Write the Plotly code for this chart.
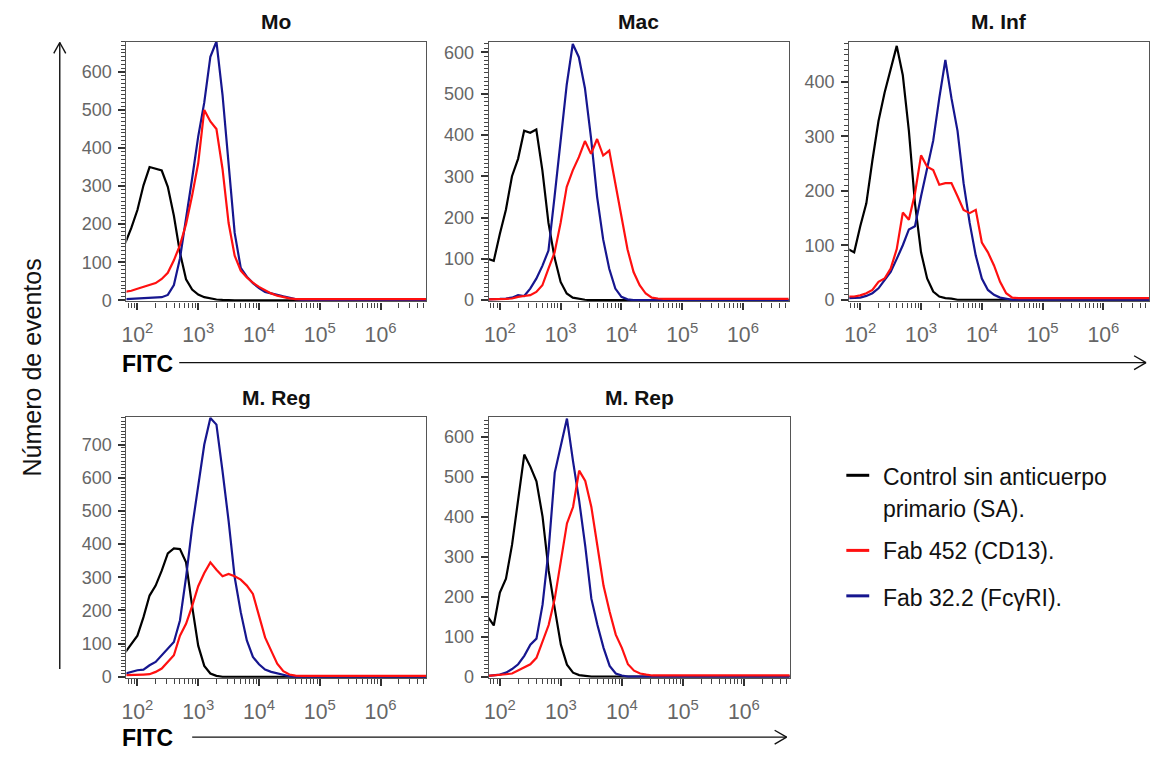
import plotly.graph_objects as go

W, H = 1151, 759

# ---------------- data (FITC intensity grid as log10 exponents; counts per channel) -------------
FITC_LOG = [1.8, 1.9, 2.0, 2.1, 2.2, 2.3, 2.4, 2.5, 2.6, 2.7,
            2.8, 2.9, 3.0, 3.1, 3.2, 3.3, 3.4, 3.5, 3.6, 3.7,
            3.8, 3.9, 4.0, 4.1, 4.2, 4.3, 4.4, 4.5, 4.6, 4.7, 6.8]

PANEL_TITLES = ["Mo", "Mac", "M. Inf", "M. Reg", "M. Rep"]

SERIES_NAMES = ["Control sin anticuerpo<br>primario (SA).", "Fab 452 (CD13).", "Fab 32.2 (FcγRI)."]

# Control sin anticuerpo primario (SA) - black
MO_SA   = [150, 190, 237, 302, 350, 345, 341, 298, 222, 125, 55, 28, 15, 8, 4, 2, 1, 0, 0, 0, 0, 0, 0, 0, 0, 0, 0, 0, 0, 0, 0]
MAC_SA  = [100, 95, 160, 219, 300, 342, 410, 405, 413, 314, 187, 103, 44, 16, 6, 3, 1, 0, 0, 0, 0, 0, 0, 0, 0, 0, 0, 0, 0, 0, 0]
INF_SA  = [93, 87, 135, 177, 256, 328, 380, 421, 466, 412, 310, 177, 87, 39, 15, 6, 3, 2, 0, 0, 0, 0, 0, 0, 0, 0, 0, 0, 0, 0, 0]
REG_SA  = [74, 100, 124, 180, 245, 275, 320, 372, 387, 385, 345, 213, 94, 33, 10, 3, 0, 0, 0, 0, 0, 0, 0, 0, 0, 0, 0, 0, 0, 0, 0]
REP_SA  = [150, 128, 210, 245, 330, 445, 555, 525, 488, 400, 265, 170, 80, 30, 10, 4, 2, 0, 0, 0, 0, 0, 0, 0, 0, 0, 0, 0, 0, 0, 0]

# Fab 32.2 (FcγRI) - blue
MO_FCR  = [3, 4, 5, 5, 6, 7, 8, 14, 40, 110, 210, 320, 430, 520, 640, 680, 540, 358, 177, 85, 62, 45, 32, 22, 17, 14, 10, 6, 3, 1, 0]
MAC_FCR = [2, 2, 3, 4, 6, 12, 10, 28, 52, 83, 120, 250, 385, 521, 620, 588, 513, 393, 250, 147, 76, 28, 8, 2, 0, 0, 0, 0, 0, 0, 0]
INF_FCR = [3, 3, 4, 7, 12, 21, 36, 51, 75, 100, 129, 135, 190, 238, 292, 370, 440, 370, 310, 214, 141, 81, 39, 18, 9, 4, 2, 0, 0, 0, 0]
REG_FCR = [10, 15, 20, 22, 35, 45, 65, 84, 105, 170, 300, 450, 580, 700, 780, 760, 620, 470, 300, 195, 110, 60, 38, 22, 15, 10, 5, 2, 0, 0, 0]
REP_FCR = [2, 3, 5, 10, 19, 31, 52, 80, 95, 180, 318, 510, 580, 645, 538, 440, 326, 195, 129, 72, 27, 8, 3, 0, 0, 0, 0, 0, 0, 0, 0]

# Fab 452 (CD13) - red
MO_CD13  = [22, 25, 30, 35, 40, 45, 56, 72, 105, 145, 200, 275, 360, 500, 470, 450, 345, 203, 117, 78, 60, 46, 35, 26, 18, 12, 8, 5, 3, 3, 3]
MAC_CD13 = [2, 2, 2, 3, 4, 8, 10, 12, 20, 36, 76, 115, 187, 274, 314, 346, 385, 354, 390, 350, 362, 282, 211, 123, 68, 36, 16, 6, 4, 3, 3]
INF_CD13 = [6, 6, 8, 12, 18, 33, 39, 57, 93, 160, 147, 195, 265, 244, 238, 211, 214, 214, 190, 165, 159, 165, 105, 87, 63, 33, 12, 4, 3, 3, 3]
REG_CD13 = [5, 5, 6, 7, 8, 15, 25, 45, 65, 124, 160, 213, 273, 313, 345, 323, 303, 310, 303, 293, 275, 250, 184, 119, 79, 40, 17, 7, 4, 3, 3]
REP_CD13 = [2, 3, 4, 6, 8, 15, 23, 31, 47, 88, 129, 195, 293, 383, 424, 515, 489, 424, 326, 227, 162, 105, 72, 31, 15, 8, 5, 3, 3, 3, 3]

Y_TOPS = [680, 626, 474, 783, 649]

# ---------------- layout geometry (pixels) ----------------
PANEL_BOXES = [  # left, right, top, bottom
    (122, 423, 42, 305),
    (486, 787, 42, 305),
    (848, 1149, 42, 305),
    (122, 423, 422, 686),
    (486, 788, 422, 686),
]
X_RANGE = [1.82, 6.75]

COLORS = {"sa": "#000000", "cd13": "#ff1010", "fcr": "#16168f"}
FONT = "Liberation Sans, Arial, sans-serif"
AXC = "#333"

def px(x):
    return x / W

def py(y):
    return 1 - y / H

fitc = [10 ** v for v in FITC_LOG]

panels = [
    (MO_SA, MO_FCR, MO_CD13),
    (MAC_SA, MAC_FCR, MAC_CD13),
    (INF_SA, INF_FCR, INF_CD13),
    (REG_SA, REG_FCR, REG_CD13),
    (REP_SA, REP_FCR, REP_CD13),
]

fig = go.Figure()
layout_axes = {}
annotations = []
for i, (sa, fcr, cd13) in enumerate(panels):
    n = "" if i == 0 else str(i + 1)
    l, r, t, b = PANEL_BOXES[i]

    for vals, key, name in ((sa, "sa", SERIES_NAMES[0]), (fcr, "fcr", SERIES_NAMES[2]), (cd13, "cd13", SERIES_NAMES[1])):
        fig.add_trace(go.Scatter(
            x=fitc, y=vals, mode="lines", name=name,
            line=dict(color=COLORS[key], width=2.2),
            xaxis="x" + n, yaxis="y" + n, showlegend=False,
            hovertemplate="FITC %{x:.3s}<br>%{y}<extra></extra>",
        ))

    layout_axes["xaxis" + n] = dict(
        type="log", range=X_RANGE, domain=[px(l), px(r)], anchor="y" + n,
        showline=True, linecolor="#555", linewidth=1.3, mirror=True,
        ticks="outside", ticklen=7, tickcolor=AXC, tickwidth=2,
        dtick=1, exponentformat="power", showgrid=False, zeroline=False,
        tickfont=dict(family=FONT, size=17, color="#666"),
        ticklabelstandoff=8,
        minor=dict(ticks="outside", ticklen=5, tickwidth=1.4, dtick="D1", tickcolor="#444", showgrid=False),
    )
    layout_axes["yaxis" + n] = dict(
        range=[-3, Y_TOPS[i]], domain=[py(b), py(t)], anchor="x" + n,
        showline=True, linecolor="#555", linewidth=1.3, mirror=True,
        ticks="outside", ticklen=7, tickcolor=AXC, tickwidth=2, dtick=100,
        showgrid=False, zeroline=False,
        tickfont=dict(family=FONT, size=18, color="#666"),
        ticklabelstandoff=3,
        minor=dict(ticks="outside", ticklen=4, tickwidth=1.3, dtick=10, tickcolor="#444", showgrid=False),
    )
    annotations.append(dict(
        text="<b>%s</b>" % PANEL_TITLES[i], x=px((l + r) / 2), y=py(t - 20),
        xref="paper", yref="paper", showarrow=False,
        font=dict(family=FONT, size=21, color="#111"),
        xanchor="center", yanchor="middle",
    ))

# axis labels
for yy in (368, 747):
    annotations.append(dict(text="<b>FITC</b>", x=px(116), y=py(yy), xref="paper", yref="paper",
                            showarrow=False, xanchor="left", yanchor="middle",
                            font=dict(family=FONT, size=23, color="#000")))
annotations.append(dict(text="Número de eventos", x=px(27), y=py(372), xref="paper", yref="paper",
                        showarrow=False, textangle=-90, xanchor="center", yanchor="middle",
                        font=dict(family=FONT, size=25, color="#111")))

# legend (drawn manually)
shapes = []
LEG = [(481, [(483, SERIES_NAMES[0].split("<br>")[0]), (515, SERIES_NAMES[0].split("<br>")[1])], COLORS["sa"]),
       (557, [(558, SERIES_NAMES[1])], COLORS["cd13"]),
       (603, [(605, SERIES_NAMES[2])], COLORS["fcr"])]
for ly, texts, col in LEG:
    shapes.append(dict(type="line", xref="paper", yref="paper", x0=px(845), x1=px(868), y0=py(ly), y1=py(ly),
                       line=dict(color=col, width=3)))
    for ty, txt in texts:
        annotations.append(dict(text=txt, x=px(880), y=py(ty), xref="paper", yref="paper", showarrow=False,
                                xanchor="left", yanchor="middle",
                                font=dict(family=FONT, size=23, color="#111")))

# arrows
def seg(x0, y0, x1, y1, w=1.4):
    return dict(type="line", xref="paper", yref="paper", x0=px(x0), y0=py(y0), x1=px(x1), y1=py(y1),
                line=dict(color="#111", width=w))

shapes += [
    seg(55, 43, 55, 677),
    seg(55, 43, 49, 54), seg(55, 43, 61, 54),
    seg(175, 367, 1146, 367),
    seg(1146, 367, 1134, 360), seg(1146, 367, 1134, 374),
    seg(188, 746, 785, 746),
    seg(785, 746, 773, 739), seg(785, 746, 773, 753),
]

fig.update_layout(
    width=W, height=H, autosize=False,
    margin=dict(l=0, r=0, t=0, b=0),
    paper_bgcolor="white", plot_bgcolor="white",
    showlegend=False,
    annotations=annotations, shapes=shapes,
    **layout_axes,
)

fig.write_html("out.html")
